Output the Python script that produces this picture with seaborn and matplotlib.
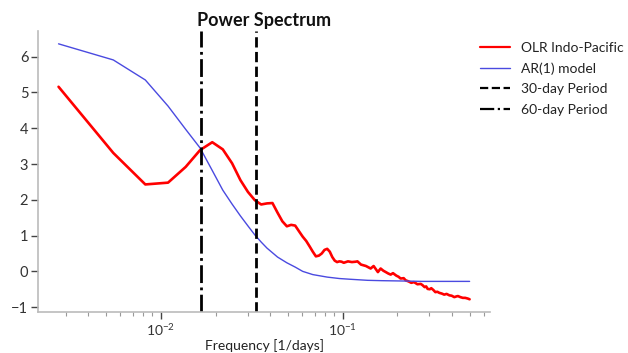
import numpy as np
import pandas as pd
import matplotlib
matplotlib.use("Agg")
import matplotlib.pyplot as plt
import seaborn as sns

# ---- data ----
record_days = 365  # frequencies are harmonic / record_days  [1/days]

red_harmonic = [1, 2, 3, 4, 5, 6, 7, 8, 9, 10, 11, 12, 13, 14, 15, 16, 17, 18, 19, 20,
                21, 22, 23, 24, 25, 26, 27, 28, 29, 30, 31, 32, 33, 34, 35, 36, 37, 38, 39, 40,
                41, 43, 44, 46, 49, 52, 54, 57, 59, 61, 63, 65, 67, 69, 72, 74, 76, 79, 81, 84,
                87, 90, 92, 94, 98, 100, 103, 105, 107, 110, 112, 115, 118, 121, 124, 128, 132,
                136, 141, 145, 150, 154, 157, 162, 167, 172, 178, 182]
red_power = [5.16, 3.31, 2.43, 2.48, 2.92, 3.39, 3.61, 3.41, 3.02, 2.55, 2.22, 1.99, 1.87, 1.90,
             1.91, 1.64, 1.40, 1.26, 1.30, 1.28, 1.12, 0.97, 0.85, 0.70, 0.55, 0.42, 0.44, 0.50,
             0.60, 0.63, 0.55, 0.40, 0.30, 0.26, 0.28, 0.27, 0.24, 0.26, 0.28, 0.27, 0.26, 0.27,
             0.28, 0.19, 0.15, 0.08, 0.15, -0.02, 0.08, 0.02, -0.02, -0.06, -0.09, -0.05, -0.12,
             -0.15, -0.20, -0.19, -0.25, -0.28, -0.32, -0.30, -0.33, -0.36, -0.35, -0.38, -0.44,
             -0.42, -0.49, -0.50, -0.47, -0.52, -0.58, -0.57, -0.60, -0.62, -0.65, -0.63, -0.67,
             -0.68, -0.72, -0.70, -0.69, -0.72, -0.74, -0.74, -0.76, -0.78]

blue_harmonic = [1, 2, 3, 4, 5, 6, 7, 8, 9, 10, 11, 12, 13, 14, 16, 18, 20, 22, 25, 30, 35,
                 40, 50, 60, 80, 100, 182]
blue_power = [6.36, 5.91, 5.35, 4.62, 3.97, 3.45, 2.82, 2.27, 1.88, 1.55, 1.27, 1.02, 0.82,
              0.65, 0.40, 0.24, 0.12, 0.00, -0.09, -0.16, -0.20, -0.22, -0.25, -0.26, -0.27,
              -0.28, -0.28]

period_30 = 30
period_60 = 60

labels = ["OLR Indo-Pacific", "AR(1) model", "30-day Period", "60-day Period"]

# ---- tables ----
df_red = pd.DataFrame({"freq": np.array(red_harmonic) / record_days, "power": red_power})
df_blue = pd.DataFrame({"freq": np.array(blue_harmonic) / record_days, "power": blue_power})

sns.set_theme(style="ticks")
plt.rcParams["font.family"] = ["Lato", "DejaVu Sans"]
plt.rcParams["mathtext.fontset"] = "custom"
plt.rcParams["mathtext.rm"] = "Lato"
plt.rcParams["mathtext.it"] = "Lato:italic"
plt.rcParams["mathtext.bf"] = "Lato:bold"

fig = plt.figure(figsize=(6.28, 3.53), dpi=100)
ax = fig.add_axes([0.0605, 0.116, 0.72, 0.796])

sns.lineplot(data=df_red, x="freq", y="power", ax=ax, color="red", lw=1.9,
             label=labels[0], estimator=None, sort=False)
sns.lineplot(data=df_blue, x="freq", y="power", ax=ax, color="#4a4ae0", lw=1,
             label=labels[1], estimator=None, sort=False)
ax.axvline(1 / period_30, color="black", ls="--", lw=2, label=labels[2])
ax.axvline(1 / period_60, color="black", ls="-.", lw=2, label=labels[3])

ax.set_xscale("log")
ax.set_title("Power Spectrum", fontsize=13, fontweight="bold", color="#111111", pad=4)
ax.set_xlabel("Frequency [1/days]", fontsize=10, color="#222222", labelpad=1)
ax.set_ylabel("")
ax.set_yticks([-1, 0, 1, 2, 3, 4, 5, 6])
ax.tick_params(axis="y", which="major", labelsize=10.5)
ax.tick_params(axis="x", which="major", labelsize=10)
ax.tick_params(axis="both", which="major", length=5, width=1,
               color="#444444", labelcolor="#333333", pad=2)
ax.tick_params(axis="both", which="minor", length=3, width=0.8, color="#999999")

sns.despine(ax=ax)
for side in ["left", "bottom"]:
    ax.spines[side].set_color("#bbbbbb")
    ax.spines[side].set_linewidth(1.2)

leg = ax.legend(loc="upper left", bbox_to_anchor=(480 / 628, 1 - 42 / 353),
                bbox_transform=fig.transFigure, frameon=False, fontsize=10,
                handlelength=2.15, handletextpad=0.8, labelspacing=0.6,
                borderaxespad=0.0, borderpad=0.0)
for t in leg.get_texts():
    t.set_color("#222222")
for h in leg.get_lines():
    h.set_linewidth(1.6)
leg.get_lines()[1].set_linewidth(1.0)

fig.savefig("out.png", dpi=100)
